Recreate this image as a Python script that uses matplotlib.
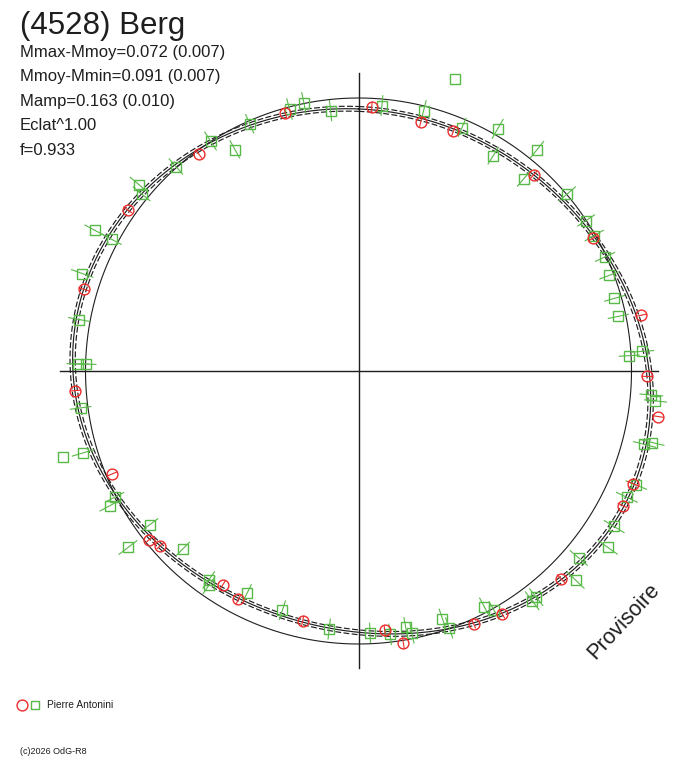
import numpy as np
import matplotlib
matplotlib.use("Agg")
import matplotlib.pyplot as plt

# ---------------- data (phase 0..1, magnitude relative to mean) ----------------
red_phase = [0.956, 0.008, 0.039, 0.060, 0.116, 0.168, 0.219, 0.253, 0.274, 0.312,
             0.325, 0.377, 0.415, 0.432, 0.474, 0.484, 0.535, 0.577, 0.590, 0.635,
             0.642, 0.687, 0.739, 0.796, 0.847, 0.899]
red_dmag = [0.020, 0.036, 0.068, 0.062, 0.041, 0.013, -0.059, -0.061, -0.114, -0.090,
            -0.089, -0.066, -0.036, -0.018, -0.011, 0.052, 0.069, 0.061, 0.082, 0.036,
            0.018, 0.025, -0.043, -0.052, -0.033, 0.015]
red_err = [0.018, 0.020, 0.018, 0.020, 0.018, 0.018, 0.020, 0.018, 0.018, 0.020,
           0.018, 0.020, 0.018, 0.018, 0.020, 0.018, 0.020, 0.018, 0.020, 0.018,
           0.018, 0.020, 0.018, 0.020, 0.018, 0.020]

green_phase = [0.959, 0.968, 0.983, 0.014, 0.039, 0.064, 0.083, 0.089, 0.108, 0.113,
               0.138, 0.157, 0.167, 0.181, 0.192, 0.206, 0.217, 0.241, 0.239, 0.263,
               0.266, 0.288, 0.290, 0.312, 0.320, 0.337, 0.348, 0.362, 0.372, 0.394,
               0.397, 0.422, 0.418, 0.446, 0.448, 0.468, 0.471, 0.481, 0.493, 0.518,
               0.549, 0.574, 0.599, 0.597, 0.624, 0.649, 0.646, 0.674, 0.671, 0.704,
               0.729, 0.754, 0.754, 0.779, 0.804, 0.828, 0.828, 0.859, 0.862, 0.884,
               0.909, 0.919, 0.934]
green_dmag = [0.009, -0.003, 0.046, 0.027, 0.020, 0.034, -0.024, 0.079, -0.044, 0.081,
              -0.003, 0.001, 0.005, 0.006, 0.020, 0.028, 0.031, 0.008, -0.045, -0.079,
              -0.096, -0.111, -0.085, -0.103, -0.089, -0.099, -0.122, -0.061, -0.107, -0.056,
              -0.057, 0.022, -0.008, 0.003, 0.047, 0.022, 0.050, 0.032, 0.045, 0.055,
              0.092, 0.104, 0.066, 0.049, 0.097, 0.057, -0.066, -0.005, -0.038, -0.055,
              -0.028, -0.029, 0.000, -0.043, -0.076, -0.026, -0.098, -0.027, -0.058, -0.004,
              -0.001, 0.080, 0.012]
green_err = [0.042, 0.040, 0.042, 0.040, 0.042, 0.040, 0.042, 0.042, 0.040, 0.042,
             0.042, 0.040, 0.042, 0.042, 0.040, 0.042, 0.042, 0.040, 0.042, 0.042,
             0.040, 0.042, 0.042, 0.040, 0.042, 0.042, 0.040, 0.042, 0.042, 0.040,
             0.042, 0.042, 0.040, 0.042, 0.042, 0.040, 0.042, 0.042, 0.040, 0.042,
             0.042, 0.040, 0.042, 0.042, 0.040, 0.042, 0.042, 0.040, 0.042, 0.042,
             0.040, 0.042, 0.042, 0.040, 0.042, 0.042, 0.040, 0.042, 0.042, 0.040,
             0.042, 0.042, 0.040]

rejected_phase = [0.051, 0.705]
rejected_dmag = [-0.130, -0.129]

# Fourier fit of the light curve (mag = a0 + sum a_k cos 2pi k phi + b_k sin 2pi k phi)
fit_a0 = -0.0043
fit_cos = [0.0075, 0.0521, -0.0091, -0.0018]
fit_sin = [-0.0151, 0.0417, -0.0057, -0.0019]
fit_sigma = 0.010

title = "(4528) Berg"
info_lines = ["Mmax-Mmoy=0.072 (0.007)", "Mmoy-Mmin=0.091 (0.007)",
              "Mamp=0.163 (0.010)", "Eclat^1.00", "f=0.933"]
observer = "Pierre Antonini"
copyright_txt = "(c)2026 OdG-R8"
stamp = "Provisoire"

# ---------------- drawing ----------------
W, H = 688, 768
CX, CY, R0 = 358.5, 371.0, 273.0
RED = "#ec2b2b"
GREEN = "#58b848"
INK = "#1e1e1e"
plt.rcParams['font.family'] = ['Liberation Sans', 'DejaVu Sans']


def polar_xy(phase, dmag):
    ph = np.asarray(phase, float)
    th = np.radians(90.0 - 360.0 * ph)
    r = 10 ** (-0.4 * np.asarray(dmag, float))
    return r * np.cos(th), r * np.sin(th)


def px2data(xp, yp):
    return (xp - CX) / R0, (CY - yp) / R0


fig = plt.figure(figsize=(W / 100, H / 100), dpi=100)
ax = fig.add_axes([0, 0, 1, 1])
ax.set_xlim(-CX / R0, (W - CX) / R0)
ax.set_ylim(-(H - CY) / R0, CY / R0)
ax.axis('off')

# crosshair
ax.plot([-1.093, 1.097], [0, 0], color=INK, lw=1.0, zorder=1)
ax.plot([0, 0], [-1.088, 1.092], color=INK, lw=1.0, zorder=1)

# mean-flux reference circle
t = np.linspace(0, 2 * np.pi, 721)
ax.plot(np.cos(t), np.sin(t), color=INK, lw=0.8, zorder=1)

# fitted light curve with +/- sigma
ph = np.linspace(0, 1, 1441)
fit = np.full_like(ph, fit_a0)
for k, (a, b) in enumerate(zip(fit_cos, fit_sin), start=1):
    fit += a * np.cos(2 * np.pi * k * ph) + b * np.sin(2 * np.pi * k * ph)
fx, fy = polar_xy(ph, fit)
ax.plot(fx, fy, color=INK, lw=0.85, zorder=2)
for s in (-fit_sigma, fit_sigma):
    ux, uy = polar_xy(ph, fit + s)
    ax.plot(ux, uy, color=INK, lw=0.85, ls=(0, (5, 2)), zorder=2)


def draw_series(phase, dmag, err, color, marker, ms, z):
    for p, d, e in zip(phase, dmag, err):
        ex, ey = polar_xy([p, p], [d - e, d + e])
        ax.plot(ex, ey, color=color, lw=0.8, zorder=z)
    x, y = polar_xy(phase, dmag)
    ax.plot(x, y, ls='none', marker=marker, ms=ms, mfc='none', mec=color,
            mew=1.0, zorder=z + 0.5)


draw_series(green_phase, green_dmag, green_err, GREEN, 's', 6.8, 3)
draw_series(red_phase, red_dmag, red_err, RED, 'o', 7.8, 4)
rx, ry = polar_xy(rejected_phase, rejected_dmag)
ax.plot(rx, ry, ls='none', marker='s', ms=6.8, mfc='none', mec=GREEN, mew=1.0, zorder=3)

# texts
fig.text(20 / W, 1 - 34 / H, title, fontsize=22.5, color=INK, va='baseline', ha='left')
for i, line in enumerate(info_lines):
    fig.text(20 / W, 1 - (56.5 + 24.6 * i) / H, line, fontsize=12, color=INK,
             va='baseline', ha='left')

fig.text(624 / W, 1 - 621 / H, stamp, fontsize=15.5, color=INK, rotation=47,
         ha='center', va='center', rotation_mode='anchor')

# observer legend
lx, ly = px2data(22, 705)
ax.plot([lx], [ly], marker='o', ms=7.8, mfc='none', mec=RED, mew=1.0, ls='none', clip_on=False)
lx2, ly2 = px2data(35, 705)
ax.plot([lx2], [ly2], marker='s', ms=6.0, mfc='none', mec=GREEN, mew=1.0, ls='none', clip_on=False)
fig.text(47 / W, 1 - 705 / H, observer, fontsize=7.3, color=INK, va='center', ha='left')
fig.text(20 / W, 1 - 752 / H, copyright_txt, fontsize=6.5, color=INK, va='center', ha='left')

fig.savefig("out.png", dpi=100)
